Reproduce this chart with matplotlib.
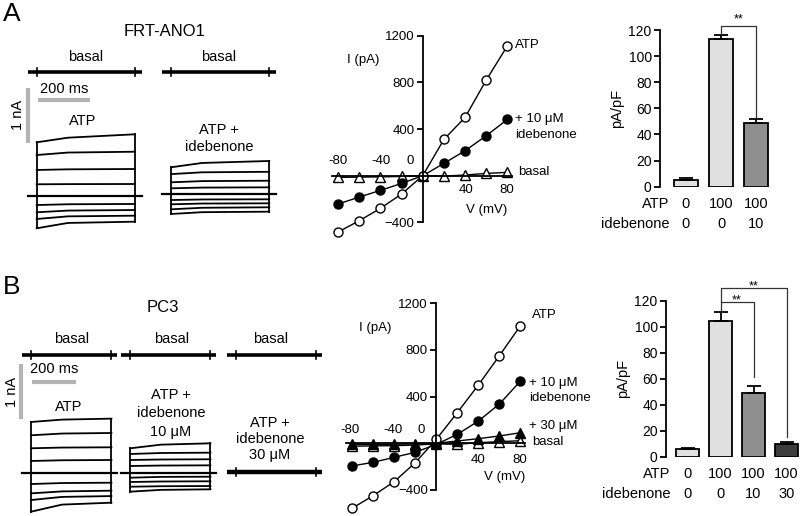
import matplotlib
matplotlib.use('Agg')
from matplotlib import pyplot as plt

plt.rcParams['font.family'] = ['Liberation Sans', 'DejaVu Sans']

# I-V curves (pA) at each holding step (mV)
volts = [-80, -60, -40, -20, 0, 20, 40, 60, 80]
iv_a_atp = [-483, -386, -280, -157, 0, 311, 500, 820, 1114]
iv_a_ide = [-243, -183, -126, -66, 0, 106, 214, 343, 483]
iv_a_basal = [-14, -12, -10, -6, 0, -3, 6, 20, 29]
iv_b_atp = [-557, -449, -329, -166, 34, 263, 500, 751, 1009]
iv_b_ide10 = [-194, -163, -120, -77, -9, 77, 191, 337, 534]
iv_b_ide30 = [-10, -10, -8, -5, 0, 20, 40, 63, 91]
iv_b_basal = [-25, -22, -20, -15, -5, -8, 5, 15, 22]

# bar charts (pA/pF)
bar_a_mean = [5.1, 113.1, 49.0]
bar_a_err = [1.3, 3.0, 2.5]
bar_a_atp = ['0', '100', '100']
bar_a_ide = ['0', '0', '10']
bar_b_mean = [5.6, 104.6, 48.7, 9.7]
bar_b_err = [0.8, 6.4, 5.6, 1.8]
bar_b_atp = ['0', '100', '100', '100']
bar_b_ide = ['0', '0', '10', '30']

# current sweeps, +80 down to -80 mV: [onset, early, end] in pA
trace_a_atp = [[976, 1060, 1122], [745, 790, 805], [473, 485, 491], [213, 216, 218],
               [0, 0, 0], [-164, -150, -145], [-296, -265, -255], [-418, -370, -358],
               [-587, -490, -467]]
trace_a_ide = [[491, 570, 606], [367, 400, 409], [218, 240, 247], [109, 122, 127],
               [0, 0, 0], [-104, -94, -91], [-182, -168, -164], [-273, -245, -236],
               [-358, -325, -316]]
trace_b_atp = [[922, 965, 983], [680, 712, 722], [444, 457, 462], [213, 226, 231],
               [0, 0, 0], [-206, -188, -182], [-376, -340, -327], [-497, -440, -425],
               [-709, -580, -545]]
trace_b_ide = [[443, 510, 534], [340, 358, 364], [231, 240, 244], [122, 130, 134],
               [0, 0, 0], [-91, -76, -73], [-169, -160, -156], [-255, -246, -242],
               [-345, -312, -302]]
times_a = [0, 120, 378]  # ms
times_b = [0, 140, 363]

W, H = 800, 516
fig = plt.figure(figsize=(8, 5.16), dpi=100)


def box(x0, y0, x1, y1):
    return fig.add_axes([x0 / W, 1 - y1 / H, (x1 - x0) / W, (y1 - y0) / H])


def label(x, y, s, size=10.5, **kw):
    fig.text(x / W, 1 - y / H, s, fontsize=size, ha=kw.pop('ha', 'center'),
             va=kw.pop('va', 'center'), **kw)


def trace_panel(y0, y1, zero_px, ms_per_px):
    ax = box(0, y0, 330, y1)
    pa = 1000 / 55
    ax.set_xlim(0, 330 * ms_per_px)
    ax.set_ylim((zero_px - y1) * pa, (zero_px - y0) * pa)
    ax.axis('off')
    return ax, (lambda px: px * ms_per_px), (lambda py: (zero_px - py) * pa)


def sweeps(ax, t0, y0, data, times, pre, post):
    dur = times[-1]
    for s in data:
        ax.plot([t0 + t for t in times], [y0 + v for v in s], color='k', lw=1.3)
    ons = [s[0] for s in data]
    ends = [s[-1] for s in data]
    ax.plot([t0, t0], [y0 + min(ons), y0 + max(ons)], color='k', lw=1.3)
    ax.plot([t0 + dur] * 2, [y0 + min(ends), y0 + max(ends)], color='k', lw=1.3)
    ax.plot([t0 - pre, t0 + dur + post], [y0, y0], color='k', lw=1.6)


def noisy(ax, t0, y0, dur, pre, post, lw=2.6):
    ax.plot([t0 - pre, t0 + dur + post], [y0, y0], color='k', lw=lw, solid_capstyle='butt')
    for t in (t0, t0 + dur):
        ax.plot([t, t], [y0 - 70, y0 + 70], color='k', lw=1.2)


def scalebars(ax, tx, ty, xv, yv0, yv1, yh, xh0, xh1):
    ax.plot([tx(xv)] * 2, [ty(yv1), ty(yv0)], color='#b3b3b3', lw=3, solid_capstyle='butt')
    ax.plot([tx(xh0), tx(xh1)], [ty(yh)] * 2, color='#b3b3b3', lw=3, solid_capstyle='butt')


# ---- panel A traces
ax, tx, ty = trace_panel(40, 245, 196, 200 / 52)
sweeps(ax, tx(36.7), 0, trace_a_atp, times_a, 33, 27)
sweeps(ax, tx(171), ty(194.3), trace_a_ide, times_a, 33, 27)
noisy(ax, tx(36.7), ty(72), times_a[-1], 33, 27)
noisy(ax, tx(171), ty(72), times_a[-1], 33, 27)
scalebars(ax, tx, ty, 28, 88, 143, 100, 38, 90)

label(11.5, 14, 'A', size=19)
label(165, 32, 'FRT-ANO1', size=12)
label(86, 57, 'basal')
label(219, 57, 'basal')
label(64, 89, '200 ms')
label(18, 115, '1 nA', rotation=90)
label(83, 121, 'ATP')
label(219, 130, 'ATP +')
label(219, 147, 'idebenone')

# ---- panel B traces
ax, tx, ty = trace_panel(310, 516, 472.7, 200 / 44.3)
sweeps(ax, tx(31), 0, trace_b_atp, times_b, 39, 27)
sweeps(ax, tx(130), 0, trace_b_ide, times_b, 39, 27)
noisy(ax, tx(235.5), ty(472.3), times_b[-1], 39, 27, lw=3.2)
noisy(ax, tx(31), ty(355), times_b[-1], 39, 27)
noisy(ax, tx(130), ty(355), times_b[-1], 39, 27)
noisy(ax, tx(235.5), ty(355), times_b[-1], 39, 27)
scalebars(ax, tx, ty, 21, 364, 419, 382, 32, 76)

label(11.5, 287, 'B', size=19)
label(163, 307, 'PC3', size=12)
for x in (72, 172, 271):
    label(x, 339, 'basal')
label(54, 369, '200 ms')
label(12, 392, '1 nA', rotation=90)
label(69, 407, 'ATP')
label(171, 395, 'ATP +')
label(171, 413, 'idebenone')
label(171, 432, '10 \u03bcM')
label(270, 423, 'ATP +')
label(270, 439, 'idebenone')
label(270, 455, '30 \u03bcM')


# ---- I-V plots
def iv_axes(x0, x1, y0, y1):
    ax = box(x0, y0, x1, y1)
    ax.set_xlim(-86, 84)
    ax.set_ylim(-400, 1200)
    for s in ('top', 'right'):
        ax.spines[s].set_visible(False)
    ax.spines['left'].set_position(('data', 0))
    ax.spines['bottom'].set_position(('data', 0))
    for s in ('left', 'bottom'):
        ax.spines[s].set_linewidth(1.3)
    ax.set_xticks([])
    ax.set_yticks([-400, 400, 800, 1200])
    ax.tick_params(axis='y', direction='out', length=4, width=1.3, labelsize=9.5, pad=2)
    ax.patch.set_visible(False)
    return ax


def iv_text(ax, x, y, s, **kw):
    ax.text(x, y, s, fontsize=9.5, ha=kw.pop('ha', 'center'), va='center', clip_on=False, **kw)


ms = 6.5
ax = iv_axes(331.6, 511.7, 35.7, 222.4)
ax.plot(volts, iv_a_basal, '-^', color='k', mfc='white', mec='k', ms=ms, lw=1, clip_on=False)
ax.plot(volts, iv_a_ide, '-o', color='k', mfc='k', ms=ms, lw=1, clip_on=False)
ax.plot(volts, iv_a_atp, '-o', color='k', mfc='white', mec='k', ms=ms, lw=1, clip_on=False)
iv_text(ax, -56, 991, 'I (pA)')
iv_text(ax, 60, -294, 'V (mV)')
iv_text(ax, -80, 125, '-80')
iv_text(ax, -39, 125, '-40')
iv_text(ax, -12, 125, '0')
iv_text(ax, 41, -122, '40')
iv_text(ax, 79, -122, '80')
iv_text(ax, 87, 1120, 'ATP', ha='left')
iv_text(ax, 87, 486, '+ 10 \u03bcM', ha='left')
iv_text(ax, 87, 349, 'idebenone', ha='left')
iv_text(ax, 90, 32, 'basal', ha='left')

ax = iv_axes(345.7, 524.7, 303.3, 490)
ax.plot(volts, iv_b_basal, '-^', color='k', mfc='white', mec='k', ms=ms, lw=1, clip_on=False)
ax.plot(volts, iv_b_ide30, '-^', color='k', mfc='k', ms=ms, lw=1, clip_on=False)
ax.plot(volts, iv_b_ide10, '-o', color='k', mfc='k', ms=ms, lw=1, clip_on=False)
ax.plot(volts, iv_b_atp, '-o', color='k', mfc='white', mec='k', ms=ms, lw=1, clip_on=False)
iv_text(ax, -58, 988, 'I (pA)')
iv_text(ax, 65, -289, 'V (mV)')
iv_text(ax, -82, 114, '-80')
iv_text(ax, -41, 114, '-40')
iv_text(ax, -14.5, 114, '0')
iv_text(ax, 40, -143, '40')
iv_text(ax, 79, -143, '80')
iv_text(ax, 90.8, 1100, 'ATP', ha='left')
iv_text(ax, 88, 517, '+ 10 \u03bcM', ha='left')
iv_text(ax, 88, 388, 'idebenone', ha='left')
iv_text(ax, 88, 148, '+ 30 \u03bcM', ha='left')
iv_text(ax, 91, 11, 'basal', ha='left')


# ---- bar charts
bar_colors = ['#e0e0e0', '#e0e0e0', '#8f8f8f', '#3c3c3c']


def bar_axes(x_axis, x1, y_top, y_zero, first, spacing):
    ax = box(x_axis, y_top, x1, y_zero)
    ax.set_ylim(0, 120)
    ax.set_xlim(-(first - x_axis) / spacing, (x1 - first) / spacing)
    for s in ('top', 'right', 'bottom'):
        ax.spines[s].set_visible(False)
    ax.spines['left'].set_linewidth(1.3)
    ax.set_xticks([])
    ax.set_yticks(range(0, 121, 20))
    ax.tick_params(axis='y', direction='out', length=4, width=1.3, labelsize=10, pad=2)
    ax.patch.set_visible(False)
    return ax


def bars(ax, mean, err, atp, ide, label_x):
    n = len(mean)
    ax.bar(range(n), mean, width=0.68, color=bar_colors[:n], edgecolor='k', lw=1.3,
           yerr=[[0] * n, err], capsize=5,
           error_kw=dict(elinewidth=1.3, capthick=1.3, ecolor='k'))
    ax.set_ylabel('pA/pF', fontsize=10.5, labelpad=3)
    for i in range(n):
        ax.text(i, -13.2, atp[i], ha='center', va='center', fontsize=10.5, clip_on=False)
        ax.text(i, -28.4, ide[i], ha='center', va='center', fontsize=10.5, clip_on=False)
    ax.text(label_x, -13.2, 'ATP', ha='right', va='center', fontsize=10.5, clip_on=False)
    ax.text(label_x, -28.4, 'idebenone', ha='right', va='center', fontsize=10.5, clip_on=False)


def bracket(ax, x0, x1, y_left, y_top, y_right, ystar):
    ax.plot([x0, x0, x1, x1], [y_left, y_top, y_top, y_right], color='#333333', lw=0.9,
            clip_on=False)
    ax.text((x0 + x1) / 2, ystar, '**', ha='center', va='center', fontsize=9, clip_on=False)


ax = bar_axes(660, 790, 30, 186.7, 686, 35)
bars(ax, bar_a_mean, bar_a_err, bar_a_atp, bar_a_ide, -0.47)
bracket(ax, 1, 2, 117, 123, 53.6, 128.4)

ax = bar_axes(666, 800, 300.7, 456.7, 687.5, 33)
bars(ax, bar_b_mean, bar_b_err, bar_b_atp, bar_b_ide, -0.51)
bracket(ax, 1, 2, 111.5, 118.8, 61, 120)
bracket(ax, 1, 3, 118.8, 129.5, 15.4, 130.7)

fig.savefig('out.png', dpi=100)
